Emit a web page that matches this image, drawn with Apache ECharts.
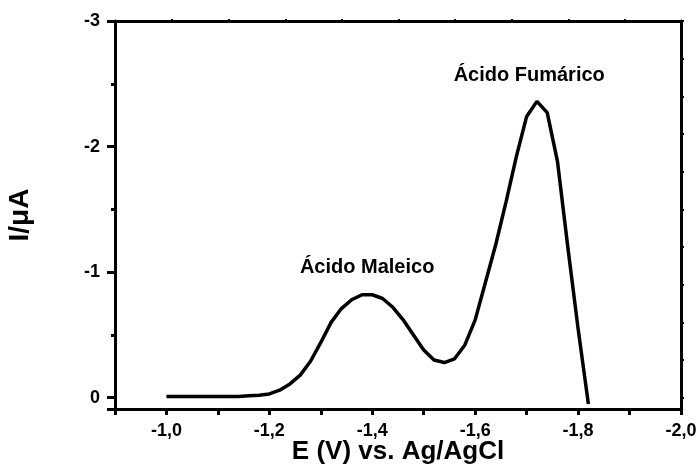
<!DOCTYPE html>
<html>
<head>
<meta charset="utf-8">
<script src="https://cdn.jsdelivr.net/npm/echarts@6/dist/echarts.min.js"></script>
<style>
  html, body { margin: 0; padding: 0; background: #fff; }
  #chart { width: 699px; height: 466px; }
</style>
</head>
<body>
<div id="chart"></div>
<script>
// potencial (V vs Ag/AgCl) y corriente (uA)
const potentials = [
  -1.00, -1.02, -1.04, -1.06, -1.08, -1.10, -1.12, -1.14, -1.16, -1.18,
  -1.20, -1.22, -1.24, -1.26, -1.28, -1.30, -1.32, -1.34, -1.36, -1.38,
  -1.40, -1.42, -1.44, -1.46, -1.48, -1.50, -1.52, -1.54, -1.56, -1.58,
  -1.60, -1.62, -1.64, -1.66, -1.68, -1.70, -1.72, -1.74, -1.76, -1.78,
  -1.80, -1.82
]
const currents = [
  -0.01, -0.01, -0.01, -0.01, -0.01, -0.01, -0.01, -0.01, -0.015, -0.02,
  -0.03, -0.06, -0.11, -0.18, -0.29, -0.44, -0.60, -0.71, -0.78, -0.82,
  -0.82, -0.79, -0.72, -0.62, -0.50, -0.38, -0.30, -0.28, -0.31, -0.42,
  -0.62, -0.92, -1.22, -1.56, -1.92, -2.24, -2.36, -2.27, -1.88, -1.20,
  -0.55, 0.05
]

const xLabelValues = [-1.0, -1.2, -1.4, -1.6, -1.8, -2.0]
const yLabelValues = [-3, -2, -1, 0]
const topTickValues = [-1.011, -1.121, -1.231, -1.341, -1.451, -1.561, -1.672, -1.781, -1.891]
const rightTickValues = [-3, -2.7, -2.4, -2.1, -1.8, -1.5, -1.2, -0.9, -0.6, -0.3, 0]

const annotationNames = ['Ácido Maleico', 'Ácido Fumárico']
const annotationX = [-1.39, -1.705]
const annotationY = [-1.04, -2.57]

const font = "'Liberation Sans', Arial, sans-serif"
const black = '#000'

const chart = echarts.init(document.getElementById('chart'))

const option = {
  animation: false,
  backgroundColor: '#fff',
  grid: {
    left: 115,
    right: 18,
    top: 21,
    bottom: 57,
    outerBoundsMode: 'none',
    containLabel: false
  },
  xAxis: [
    {
      type: 'value',
      inverse: true,
      min: -2.0,
      max: -0.9,
      interval: 0.1,
      name: 'E (V) vs. Ag/AgCl',
      nameLocation: 'middle',
      nameGap: 30,
      nameMoveOverlap: false,
      nameTextStyle: {
        color: black,
        fontFamily: font,
        fontWeight: 'bold',
        fontSize: 26
      },
      axisLine: { show: true, onZero: false, lineStyle: { color: black, width: 3 } },
      axisTick: { show: true, length: 6, lineStyle: { color: black, width: 3 } },
      axisLabel: {
        customValues: xLabelValues,
        color: black,
        fontFamily: font,
        fontWeight: 'bold',
        fontSize: 18,
        margin: 13,
        formatter: v => v.toFixed(1).replace('.', ',')
      },
      splitLine: { show: false }
    },
    {
      type: 'value',
      position: 'top',
      inverse: true,
      min: -2.0,
      max: -0.9,
      axisLine: { show: true, onZero: false, lineStyle: { color: black, width: 3 } },
      axisTick: { show: true, customValues: topTickValues, length: 2, lineStyle: { color: black, width: 2 } },
      axisLabel: { show: false },
      splitLine: { show: false }
    }
  ],
  yAxis: [
    {
      type: 'value',
      inverse: true,
      min: -3,
      max: 0.09,
      interval: 1,
      name: 'I/μA',
      nameLocation: 'middle',
      nameGap: 81,
      nameMoveOverlap: false,
      nameTextStyle: {
        color: black,
        fontFamily: font,
        fontWeight: 'bold',
        fontSize: 28
      },
      axisLine: { show: true, onZero: false, lineStyle: { color: black, width: 3 } },
      axisTick: { show: true, length: 8, lineStyle: { color: black, width: 3 } },
      minorTick: { show: true, splitNumber: 2, length: 4, lineStyle: { color: black, width: 3 } },
      axisLabel: {
        customValues: yLabelValues,
        color: black,
        fontFamily: font,
        fontWeight: 'bold',
        fontSize: 18,
        margin: 15
      },
      splitLine: { show: false }
    },
    {
      type: 'value',
      position: 'right',
      inverse: true,
      min: -3,
      max: 0.09,
      axisLine: { show: true, onZero: false, lineStyle: { color: black, width: 3 } },
      axisTick: { show: true, customValues: rightTickValues, length: 3, lineStyle: { color: black, width: 2 } },
      axisLabel: { show: false },
      splitLine: { show: false }
    }
  ],
  series: [
    {
      type: 'line',
      data: potentials.map((e, i) => [e, currents[i]]),
      symbol: 'none',
      smooth: false,
      lineStyle: { color: black, width: 3.5 },
      z: 3
    },
    {
      type: 'scatter',
      data: annotationNames.map((n, i) => ({ name: n, value: [annotationX[i], annotationY[i]] })),
      symbolSize: 0,
      silent: true,
      itemStyle: { opacity: 1 },
      label: {
        show: true,
        position: 'inside',
        formatter: p => p.name,
        color: black,
        opacity: 1,
        textBorderWidth: 0,
        fontFamily: font,
        fontWeight: 'bold',
        fontSize: 20
      }
    }
  ]
}

chart.setOption(option)
</script>
</body>
</html>
